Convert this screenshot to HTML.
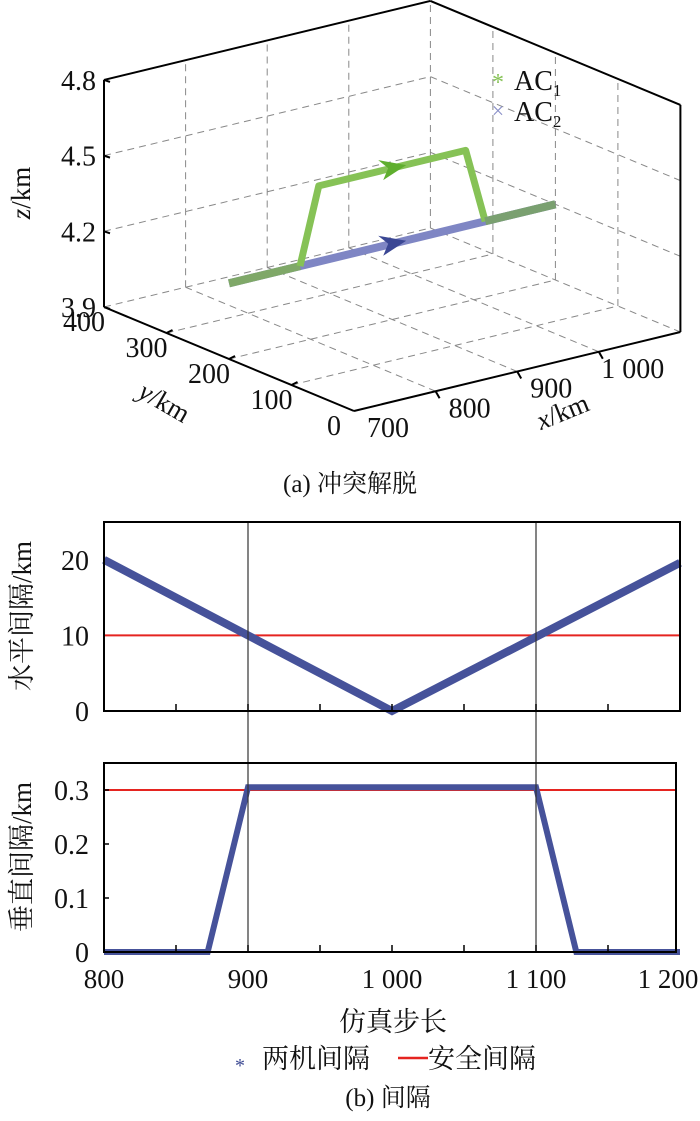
<!DOCTYPE html>
<html><head><meta charset="utf-8">
<style>
html,body{margin:0;padding:0;background:#fff;}
svg{display:block;}
text{font-family:"Liberation Serif","Noto Serif CJK SC","Noto Sans CJK SC",serif;fill:#111;}
</style></head>
<body>
<svg id="fig" width="700" height="1121" viewBox="0 0 700 1121" xmlns="http://www.w3.org/2000/svg">
<g id="p3d"></g>
<text x="350" y="492" text-anchor="middle" font-size="25">(a) 冲突解脱</text>
<g id="p2"></g>
<text x="393" y="1031" text-anchor="middle" font-size="27">仿真步长</text>
<g>
<text x="240" y="1072" text-anchor="middle" font-size="20" style="fill:#3d4a93">*</text>
<text x="262" y="1068" font-size="27">两机间隔</text>
<line x1="398" y1="1058" x2="428" y2="1058" stroke="#e52420" stroke-width="2.5"/>
<text x="428" y="1068" font-size="27">安全间隔</text>
</g>
<text x="388" y="1106" text-anchor="middle" font-size="25">(b) 间隔</text>
</svg>
<script>
// ---- 3D data ----
const xTicks3d = [700, 800, 900, 1000];
const xTickLabels3d = ["700", "800", "900", "1 000"];
const yTicks3d = [0, 100, 200, 300, 400];
const zTicks3d = [3.9, 4.2, 4.5, 4.8];
const ac1X = [700, 787, 810, 990, 1014, 1100];
const ac1Y = [200, 200, 200, 200, 200, 200];
const ac1Z = [4.2, 4.2, 4.5, 4.5, 4.2, 4.2];
const ac2X = [700, 1100];
const ac2Y = [200, 200];
const ac2Z = [4.2, 4.2];
// ---- 2D data ----
const steps = [800, 1000, 1200];
const horizSep = [20, 0, 19.6];
const vSteps = [800, 872, 900, 1100, 1128, 1200];
const vertSep = [0, 0, 0.305, 0.305, 0, 0];
const xTicks2d = [800, 900, 1000, 1100, 1200];
const xTickLabels2d = ["800", "900", "1 000", "1 100", "1 200"];
const hTicks = [0, 10, 20];
const vTicks = [0, 0.1, 0.2, 0.3];
const vTickLabels = ["0", "0.1", "0.2", "0.3"];
const hSafe = 10, vSafe = 0.3;
const conflictSteps = [900, 1100];

const NS = "http://www.w3.org/2000/svg";
function mk(parent, tag, attrs) {
  const e = document.createElementNS(NS, tag);
  for (const k in attrs) e.setAttribute(k, attrs[k]);
  parent.appendChild(e);
  return e;
}
function P(x, y, z) {
  return [354 + 0.816 * (x - 700) - 0.625 * y,
          411 - 0.1975 * (x - 700) - 0.26 * y - 252.3 * (z - 3.9)];
}
const g3 = document.getElementById('p3d');
function seg(a, b, dashed, nm) {
  const l = mk(g3, 'line', {x1: a[0], y1: a[1], x2: b[0], y2: b[1], stroke: dashed ? '#888' : '#000', 'stroke-width': dashed ? 1 : 2, 'stroke-dasharray': dashed ? '7,5' : 'none'});
  
  
}
const X0 = 700, X1 = 1100, Y0 = 0, Y1 = 400, Z0 = 3.9, Z1 = 4.8;
[800, 900, 1000].forEach(x => seg(P(x, Y0, Z0), P(x, Y1, Z0), true, 'floor-grid-x'));
[100, 200, 300].forEach(y => seg(P(X0, y, Z0), P(X1, y, Z0), true, 'floor-grid-y'));
seg(P(X0, Y1, Z0), P(X1, Y1, Z0), true, 'back-floor-edge');
seg(P(X1, Y1, Z0), P(X1, Y0, Z0), true, 'right-floor-edge');
seg(P(X1, Y1, Z0), P(X1, Y1, Z1), true, 'back-corner-edge');
[800, 900, 1000].forEach(x => seg(P(x, Y1, Z0), P(x, Y1, Z1), true, 'back-wall-grid-x'));
[4.2, 4.5].forEach(z => seg(P(X0, Y1, z), P(X1, Y1, z), true, 'back-wall-grid-z'));
[100, 200, 300].forEach(y => seg(P(X1, y, Z0), P(X1, y, Z1), true, 'right-wall-grid-y'));
[4.2, 4.5].forEach(z => seg(P(X1, Y1, z), P(X1, Y0, z), true, 'right-wall-grid-z'));
seg(P(X0, Y1, Z0), P(X0, Y1, Z1), false, 'z-axis');
seg(P(X0, Y1, Z0), P(X0, Y0, Z0), false, 'y-axis');
seg(P(X0, Y0, Z0), P(X1, Y0, Z0), false, 'x-axis');
seg(P(X1, Y0, Z0), P(X1, Y0, Z1), false, 'box-edge-right');
seg(P(X0, Y1, Z1), P(X1, Y1, Z1), false, 'box-edge-top-left');
seg(P(X1, Y1, Z1), P(X1, Y0, Z1), false, 'box-edge-top-right');
xTicks3d.forEach((x, i) => {
  const p = P(x, Y0, Z0);
  if (i > 0) seg(p, [p[0] + 4, p[1] + 7], false, 'x-tick');
  const t = mk(g3, 'text', {x: p[0] + 34, y: p[1] + 26, 'font-size': 28, 'text-anchor': 'middle'});
  t.textContent = xTickLabels3d[i];
  
  
});
yTicks3d.forEach(y => {
  const p = P(X0, y, Z0);
  if (y > 0 && y < 400) seg(p, [p[0] + 6, p[1] - 3], false, 'y-tick');
  const t = mk(g3, 'text', {x: p[0] - 20, y: p[1] + 24, 'font-size': 28, 'text-anchor': 'middle'});
  t.textContent = String(y);
  
  
});
zTicks3d.forEach(z => {
  const p = P(X0, Y1, z);
  seg(p, [p[0] + 6, p[1] + 2], false, 'z-tick');
  const t = mk(g3, 'text', {x: p[0] - 8, y: p[1] + 10, 'font-size': 28, 'text-anchor': 'end'});
  t.textContent = z.toFixed(1);
  
  
});
function label3(txt, x, y, rot, nm) {
  const t = mk(g3, 'text', {x: x, y: y, 'font-size': 27, 'text-anchor': 'middle', transform: `rotate(${rot} ${x} ${y})`});
  t.innerHTML = txt;
  
  
}
label3('<tspan font-style="italic">z</tspan>/km', 30, 193, -90, 'z-axis-title');
label3('<tspan font-style="italic">y</tspan>/km', 160, 410, 30, 'y-axis-title');
label3('<tspan font-style="italic">x</tspan>/km', 566, 420, -22, 'x-axis-title');
function traj(xs, ys, zs, col, w, nm) {
  const pts = xs.map((x, i) => P(x, ys[i], zs[i]).join(',')).join(' ');
  const pl = mk(g3, 'polyline', {points: pts, fill: 'none', stroke: col, 'stroke-width': w, 'stroke-linejoin': 'round'});
  
  
}
traj(ac2X, ac2Y, ac2Z, '#7f86c4', 8, 'ac2-trajectory');
traj(ac1X.slice(0, 2), ac1Y.slice(0, 2), ac1Z.slice(0, 2), '#7fa868', 8, 'ac1-trajectory-start');
traj(ac1X.slice(1, 5), ac1Y.slice(1, 5), ac1Z.slice(1, 5), '#86c256', 7, 'ac1-trajectory');
traj(ac1X.slice(4), ac1Y.slice(4), ac1Z.slice(4), '#7aa070', 8, 'ac1-trajectory-end');
function arrow(x, y, z, col, nm) {
  const p = P(x, y, z);
  const a = mk(g3, 'polygon', {points: `${p[0] - 14},${p[1] - 8} ${p[0] + 14},${p[1] - 3} ${p[0] - 9},${p[1] + 12} ${p[0] - 4},${p[1]}`, fill: col});
  
  
}
arrow(900, 200, 4.5, '#5fae2e', 'ac1-direction-arrow');
arrow(900, 200, 4.2, '#3b4794', 'ac2-direction-arrow');
const lg = mk(g3, 'g', {});


lg.innerHTML = '<text x="498" y="90" font-size="24" text-anchor="middle" style="fill:#86c256">*</text>' +
  '<text x="514" y="90" font-size="28">AC<tspan font-size="17" dy="6">1</tspan></text>' +
  '<text x="498" y="118" font-size="22" text-anchor="middle" style="fill:#8a90c8">×</text>' +
  '<text x="514" y="121" font-size="28">AC<tspan font-size="17" dy="6">2</tspan></text>';

// ---- 2D charts ----
const g2 = document.getElementById('p2');
const xL = 104, xR = 680;
const sx = v => xL + (v - 800) / 400 * (xR - xL);
const topBox = {t: 522, b: 711, max: 25};
const botBox = {t: 763, b: 952, max: 0.35};
const syT = v => topBox.b - v / topBox.max * (topBox.b - topBox.t);
const syB = v => botBox.b - v / botBox.max * (botBox.b - botBox.t);
function el(tag, attrs, nm) {
  const e = mk(g2, tag, attrs);
  
  
  return e;
}
el('line', {x1: xL, x2: xR, y1: syT(hSafe), y2: syT(hSafe), stroke: '#e52420', 'stroke-width': 2}, 'horizontal-safe-line');
el('line', {x1: xL, x2: xR - 4, y1: syB(vSafe), y2: syB(vSafe), stroke: '#e52420', 'stroke-width': 2}, 'vertical-safe-line');
el('polyline', {points: steps.map((s, i) => sx(s) + ',' + syT(horizSep[i])).join(' '), fill: 'none', stroke: '#46529a', 'stroke-width': 8}, 'horizontal-separation-series');
el('polyline', {points: vSteps.map((s, i) => sx(s) + ',' + syB(vertSep[i])).join(' '), fill: 'none', stroke: '#46529a', 'stroke-width': 6}, 'vertical-separation-series');
conflictSteps.forEach(s => el('line', {x1: sx(s), x2: sx(s), y1: topBox.t, y2: botBox.b, stroke: '#333', 'stroke-width': 1.2}, 'conflict-boundary-line'));
el('rect', {x: xL, y: topBox.t, width: xR - xL, height: topBox.b - topBox.t, fill: 'none', stroke: '#000', 'stroke-width': 2}, 'horizontal-plot-frame');
el('rect', {x: xL, y: botBox.t, width: xR - xL - 4, height: botBox.b - botBox.t, fill: 'none', stroke: '#000', 'stroke-width': 2}, 'vertical-plot-frame');
for (let s = 850; s < 1200; s += 50) {
  el('line', {x1: sx(s), x2: sx(s), y1: topBox.b, y2: topBox.b - 7, stroke: '#000', 'stroke-width': 1.5}, 'top-x-tick');
  el('line', {x1: sx(s), x2: sx(s), y1: botBox.b, y2: botBox.b - 7, stroke: '#000', 'stroke-width': 1.5}, 'bottom-x-tick');
}
xTicks2d.forEach((s, i) => {
  const t = el('text', {x: Math.min(sx(s), 668), y: 988, 'font-size': 27, 'text-anchor': 'middle'}, 'x-tick-label');
  t.textContent = xTickLabels2d[i];
});
hTicks.forEach(v => {
  const t = el('text', {x: 89, y: syT(v) + 10, 'font-size': 28, 'text-anchor': 'end'}, 'horizontal-y-tick-label');
  t.textContent = String(v);
});
vTicks.forEach((v, i) => {
  el('line', {x1: xL, x2: xL + 5, y1: syB(v), y2: syB(v), stroke: '#000', 'stroke-width': 1.5}, 'vertical-y-tick');
  const t = el('text', {x: 89, y: syB(v) + 10, 'font-size': 28, 'text-anchor': 'end'}, 'vertical-y-tick-label');
  t.textContent = vTickLabels[i];
});
const yt1 = el('text', {x: 31, y: 616, 'font-size': 27, 'text-anchor': 'middle', transform: 'rotate(-90 31 616)'}, 'horizontal-y-axis-title');
yt1.textContent = '水平间隔/km';
const yt2 = el('text', {x: 31, y: 857, 'font-size': 27, 'text-anchor': 'middle', transform: 'rotate(-90 31 857)'}, 'vertical-y-axis-title');
yt2.textContent = '垂直间隔/km';
</script>
</body></html>
